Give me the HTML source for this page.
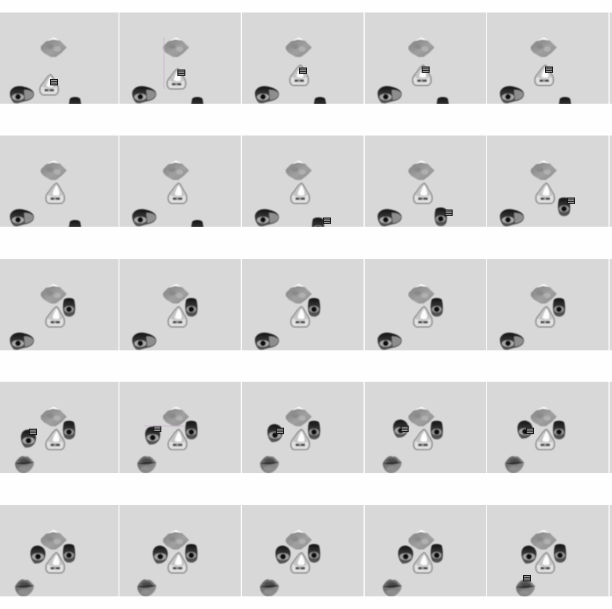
<!DOCTYPE html>
<html>
<head>
<meta charset="utf-8">
<title>Face puzzle frames</title>
<style>
html,body{margin:0;padding:0;background:#fefefe;}
body{width:612px;height:609px;overflow:hidden;}
svg{display:block;}
</style>
</head>
<body>
<svg id="grid" width="612" height="609" viewBox="0 0 612 609" xmlns="http://www.w3.org/2000/svg">
<defs>
<filter id="soft" x="-20%" y="-20%" width="140%" height="140%"><feGaussianBlur stdDeviation="0.4"/></filter>
<linearGradient id="browGrad" x1="0" y1="0" x2="1" y2="1"><stop offset="0" stop-color="#808080"/><stop offset="0.55" stop-color="#a0a0a0"/><stop offset="1" stop-color="#8c8c8c"/></linearGradient>
<linearGradient id="capGrad" x1="0" y1="0" x2="0" y2="1"><stop offset="0" stop-color="#141414"/><stop offset="0.5" stop-color="#3a3a3a"/><stop offset="1" stop-color="#5a5a5a"/></linearGradient>
<linearGradient id="lipGrad" x1="0" y1="0" x2="1" y2="1"><stop offset="0" stop-color="#5a5a5a"/><stop offset="0.5" stop-color="#7e7e7e"/><stop offset="1" stop-color="#9a9a9a"/></linearGradient>
<g id="brow-piece" filter="url(#soft)">
<path d="M-6,-7 L0,-10 L6,-7 L9,-4 L0,-6 Z" fill="#fff"/>
<path d="M-13,-1 L-8,-6 L-1,-8 L6,-7 L13,0 L7.5,5.5 L2,9.5 L-3,9.5 L-10,5.5 L-13,2 Z" fill="url(#browGrad)"/>
<ellipse cx="-4" cy="-1" rx="3.5" ry="2.4" fill="#8a8a8a"/>
<ellipse cx="3.5" cy="1.5" rx="3.5" ry="2.6" fill="#b0b0b0"/>
</g>
<g id="nose-piece" filter="url(#soft)">
<path d="M1.5,-10 C-2.5,-8 -4,-4 -6.5,-1 C-10.5,3 -10,9.5 -6,10.5 L6,10.5 C10.5,9.5 10.5,3 7.5,-1 C5,-4 4.5,-8 1.5,-10 Z" fill="#c4c4c4" stroke="#7c7c7c" stroke-width="0.9"/>
<path d="M1.5,-8 C-0.5,-5 -2,-2 -2.5,1.5 C0,3 3,3 4.5,1.5 C4.5,-2 3.5,-5 1.5,-8 Z" fill="#fcfcfc"/>
<path d="M-7.5,2 C-9,6 -7,9.5 -5,9.5 L6,9.5 C8.5,8.5 8.5,5 7.5,2 C5,4 -4,4 -7.5,2 Z" fill="#e2e2e2"/>
<path d="M-4.5,4.4 L5,4.4 L5,7 L-4.5,7 Z" fill="#4e4e4e"/>
<rect x="-1" y="4.4" width="2" height="2.6" fill="#9c9c9c"/>
</g>
<g id="left-eye-piece" filter="url(#soft)">
<path d="M-12,-3 C-10,-8.5 -4,-9.5 1,-8.5 C6,-7.5 12,-5 12,-1 C12,4 6,6 2,6.5 L-5,8.5 L-8,8 C-11,5 -12.5,1 -12,-3 Z" fill="url(#capGrad)"/>
<path d="M2,-5 C7,-5.5 11.5,-3 11.5,-1 C11.5,2.5 7,5 3,5 Z" fill="#8e8e8e"/>
<ellipse cx="-4" cy="2" rx="6" ry="3.4" fill="#aaaaaa"/>
<circle cx="-4" cy="1.8" r="2.8" fill="#0e0e0e"/>
</g>
<g id="left-eye-close-piece" filter="url(#soft)">
<path d="M-7.5,-3 C-6.5,-8.5 -2,-9.5 1,-9 C5,-8 7.5,-5 7.5,-1 C7.5,4 5,7 1,8.5 L-3,9 C-6,7 -8,2 -7.5,-3 Z" fill="url(#capGrad)"/>
<ellipse cx="0" cy="2" rx="6" ry="3.6" fill="#a4a4a4"/>
<circle cx="0" cy="1.9" r="2.9" fill="#0c0c0c"/>
</g>
<g id="right-eye-piece" filter="url(#soft)">
<path d="M-5,-8 C-3,-10 3,-10 5,-8 C6.5,-3 6.5,3 5.5,6 C3.5,10 -2.5,10 -4.5,7 C-6.5,3 -6.5,-3 -5,-8 Z" fill="url(#capGrad)"/>
<ellipse cx="0" cy="1.8" rx="5" ry="3.4" fill="#969696"/>
<circle cx="0" cy="1.8" r="2.8" fill="#0c0c0c"/>
</g>
<g id="lips-piece" filter="url(#soft)">
<path d="M-9.5,-1 C-7,-6 -3,-9 -1,-8 L1,-7.5 C3,-9 6,-6 9.5,-2 C9.5,3 5,8 0,9 C-5,9.5 -9.5,5 -9.5,-1 Z" fill="url(#lipGrad)"/>
<path d="M-6,-3 C-3,-7 3,-7 6,-3 C2,-2 -2,-2 -6,-3 Z" fill="#4e4e4e"/>
<path d="M-9,-1 C-4,-2.6 4,-3 9,-2 C4,0.5 -4,1 -9,-1 Z" fill="#303030"/>
<ellipse cx="-1" cy="4.5" rx="5" ry="2.4" fill="#8e8e8e"/>
</g>
<g id="toolbar-piece">
<rect x="-4" y="-3" width="8" height="6.4" fill="#1a1a1a"/>
<rect x="-3" y="-1.9" width="6" height="0.8" fill="#b8b8b8"/>
<rect x="-3" y="-0.2" width="6" height="0.8" fill="#b8b8b8"/>
<rect x="-3" y="1.5" width="6" height="0.8" fill="#b8b8b8"/>
</g>
</defs>
</svg>
<script>
var columnStarts = [-3, 119.3, 242, 364.7, 487, 609.6];
var rowStarts = [12.5, 135.5, 259, 381.7, 505];
var panelWidth = 121.6;
var panelHeight = 91.4;
var SVGNS = 'http://www.w3.org/2000/svg';
var grid = document.getElementById('grid');

/* per-frame placement: nose, leftEye, rightEye, lips, toolbar (null = hidden) */
var frames = [
 {n:[52,72],l:[25,82.5],r:[78,94],m:null,t:[57,69.5]},
 {n:[57,66],l:[25,82.5],r:[78,94],m:null,t:[62,60]},
 {n:[57,62.5],l:[25,82.5],r:[78,94],m:null,t:[61,58]},
 {n:[57,62.5],l:[25,82.5],r:[78,94],m:null,t:[61,57]},
 {n:[57,62.5],l:[25,82.5],r:[78,94],m:null,t:[62,57]},

 {n:[58,57.5],l:[25,82.5],r:[78,94],m:null,t:null},
 {n:[58,57.5],l:[25,82.5],r:[78,94],m:null,t:null},
 {n:[58,57.5],l:[25,82.5],r:[76,91.5],m:null,t:[85,85]},
 {n:[58,57.5],l:[25,82.5],r:[76,81.5],m:null,t:[84,77]},
 {n:[58,57.5],l:[25,82.5],r:[77,71.5],m:null,t:[84,65]},

 {n:[58,57.5],l:[25,82.5],r:[72,48.5],m:null,t:null},
 {n:[58,57.5],l:[25,82.5],r:[72,48.5],m:null,t:null},
 {n:[58,57.5],l:[25,82.5],r:[72,48.5],m:null,t:null},
 {n:[58,57.5],l:[25,82.5],r:[72,48.5],m:null,t:null},
 {n:[58,57.5],l:[25,82.5],r:[72,48.5],m:null,t:null},

 {n:[58,57.5],c:[31.5,57],r:[72,48.5],m:[27.5,82.6],t:[36,50]},
 {n:[58,57.5],c:[33.4,54],r:[72,48.5],m:[27.5,82.6],t:[38,47]},
 {n:[58,57.5],c:[33,51.5],r:[72,48.5],m:[27.5,82.6],t:[38,49]},
 {n:[58,57.5],c:[36,47],r:[72,48.5],m:[27.5,82.6],t:[40,47]},
 {n:[58,57.5],c:[38,48],r:[72,48.5],m:[27.5,82.6],t:[43,49]},

 {n:[58,57.5],c:[41,49.7],r:[72,48.5],m:[27.5,82.6],t:null},
 {n:[58,57.5],c:[41,49.7],r:[72,48.5],m:[27.5,82.6],t:null},
 {n:[58,57.5],c:[41,49.7],r:[72,48.5],m:[27.5,82.6],t:null},
 {n:[58,57.5],c:[41,49.7],r:[72,48.5],m:[27.5,82.6],t:null},
 {n:[58,57.5],c:[42,49.7],r:[73,48.5],m:[38.5,83],t:[40,73]}
];
var browPos = [56.8, 35];

function place(parent, symbol, pos) {
  var u = document.createElementNS(SVGNS, 'use');
  u.setAttribute('href', '#' + symbol);
  u.setAttribute('transform', 'translate(' + pos[0] + ',' + pos[1] + ')');
  
  
  parent.appendChild(u);
}

rowStarts.forEach(function (rowY, r) {
  columnStarts.forEach(function (colX, c) {
    var panel = document.createElementNS(SVGNS, 'svg');
    panel.setAttribute('x', colX);
    panel.setAttribute('y', rowY);
    panel.setAttribute('width', panelWidth);
    panel.setAttribute('height', panelHeight);
    
    
    var bg = document.createElementNS(SVGNS, 'rect');
    bg.setAttribute('width', panelWidth);
    bg.setAttribute('height', panelHeight);
    bg.setAttribute('fill', '#d9d8d9');
    
    
    panel.appendChild(bg);
    var f = frames[r * 5 + c];
    if (c < 5 && f) {
      place(panel, 'brow-piece', browPos);
      place(panel, 'nose-piece', f.n);
      if (f.l) place(panel, 'left-eye-piece', f.l);
      if (f.c) place(panel, 'left-eye-close-piece', f.c);
      place(panel, 'right-eye-piece', f.r);
      if (f.m) place(panel, 'lips-piece', f.m);
      if (f.t) place(panel, 'toolbar-piece', f.t);
    }
    grid.appendChild(panel);
  });
});

function guide(x1, y1, x2, y2) {
  var g = document.createElementNS(SVGNS, 'line');
  g.setAttribute('x1', x1);
  g.setAttribute('y1', y1);
  g.setAttribute('x2', x2);
  g.setAttribute('y2', y2);
  g.setAttribute('stroke', '#c8b6cc');
  g.setAttribute('stroke-width', '0.8');
  
  
  grid.appendChild(g);
}
guide(164, 37, 164, 89);
guide(144, 426, 185, 426);
</script>
</body>
</html>
